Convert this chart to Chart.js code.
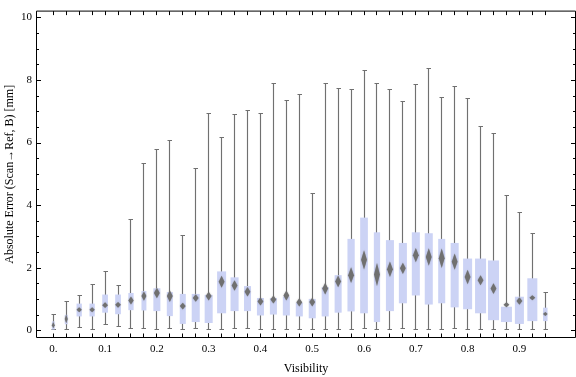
<!DOCTYPE html>
<html><head><meta charset="utf-8">
<script src="https://cdn.jsdelivr.net/npm/chart.js@4"></script>
<style>html,body{margin:0;padding:0;background:#fff}#wrap{width:576px;height:377px}</style>
</head><body><div id="wrap"><canvas id="c" width="576" height="377"></canvas></div>
<script>
// ---- data ----
const visibility = [0,0.025,0.05,0.075,0.1,0.125,0.15,0.175,0.2,0.225,0.25,0.275,0.3,0.325,0.35,0.375,0.4,0.425,0.45,0.475,0.5,0.525,0.55,0.575,0.6,0.625,0.65,0.675,0.7,0.725,0.75,0.775,0.8,0.825,0.85,0.875,0.9,0.925,0.95];
const whiskerLow = [0,0,0.08,0.02,0.18,0.10,0.04,0.04,0,0.03,0,0.03,0,0,0.05,0.03,0,0.02,0,0.02,0,0,0,0,0.03,0,0,0.03,0,0,0,0.03,0,0,0,0,0,0,0];
const quartile1 = [0.02,0.19,0.44,0.44,0.56,0.51,0.64,0.63,0.61,0.45,0.20,0.26,0.23,0.54,0.61,0.61,0.47,0.50,0.47,0.44,0.38,0.44,0.56,0.60,0.54,0.26,0.61,0.86,1.11,0.82,0.86,0.73,0.67,0.54,0.32,0.26,0.20,0.29,0.29];
const centre = [0.16,0.36,0.65,0.65,0.80,0.81,0.95,1.09,1.19,1.09,0.77,1.03,1.09,1.55,1.43,1.23,0.92,0.98,1.11,0.89,0.90,1.33,1.56,1.76,2.25,1.78,1.95,1.98,2.40,2.34,2.30,2.19,1.70,1.60,1.33,0.81,0.93,1.04,0.52];
const quartile3 = [0.28,0.49,0.85,0.85,1.14,1.14,1.19,1.25,1.34,1.22,1.16,1.16,1.13,1.88,1.69,1.41,1.03,1.03,1.08,0.88,1.00,1.38,1.76,2.92,3.60,3.13,2.88,2.79,3.13,3.10,2.92,2.79,2.29,2.29,2.23,0.75,1.07,1.66,0.72];
const whiskerHigh = [0.52,0.93,1.12,1.47,1.90,1.43,3.54,5.35,5.79,6.07,3.03,5.19,6.95,6.17,6.92,7.04,6.95,7.89,7.36,7.55,4.38,7.89,7.76,7.70,8.33,7.92,7.70,7.33,7.86,8.39,7.45,7.80,7.42,6.54,6.32,4.32,3.78,3.12,1.22];
const centreSpread = [0.10,0.14,0.08,0.08,0.09,0.09,0.13,0.15,0.17,0.19,0.11,0.12,0.14,0.19,0.17,0.15,0.13,0.13,0.16,0.13,0.14,0.19,0.19,0.25,0.31,0.37,0.25,0.18,0.23,0.28,0.31,0.26,0.23,0.16,0.17,0.08,0.12,0.08,0.06];
const binWeight = [0.25,0.27,0.48,0.48,0.52,0.52,0.48,0.45,0.64,0.55,0.55,0.73,0.73,0.82,0.73,0.64,0.64,0.64,0.64,0.64,0.64,0.64,0.64,0.66,0.70,0.57,0.73,0.73,0.73,0.73,0.64,0.73,0.82,1.0,1.0,1.0,0.82,0.91,0.41];
const xTickValues = [0,0.1,0.2,0.3,0.4,0.5,0.6,0.7,0.8,0.9];
const xTickLabels = ["0.","0.1","0.2","0.3","0.4","0.5","0.6","0.7","0.8","0.9"];
const yTickValues = [0,2,4,6,8,10];
const yTickLabels = ["0","2","4","6","8","10"];
const yMinorTicks = [0.5,1,1.5,2.5,3,3.5,4.5,5,5.5,6.5,7,7.5,8.5,9,9.5];
const xTitle = "Visibility";
const yTitle = "Absolute Error (Scan\u2192Ref, B) [mm]";

const SERIF = "'Liberation Serif','DejaVu Serif',serif";

const boxPlugin = {
  id: 'boxwhisker',
  beforeDatasetsDraw(chart) {
    const ctx = chart.ctx, xs = chart.scales.x, ys = chart.scales.y;
    const ca = chart.chartArea;
    ctx.save();
    ctx.beginPath(); ctx.rect(ca.left, ca.top, ca.right - ca.left, ca.bottom - ca.top); ctx.clip();
    for (let i = 0; i < visibility.length; i++) {
      const xc = xs.getPixelForValue(visibility[i]);
      const xl = Math.floor(xc) + 0.5;
      const yLo = Math.round(ys.getPixelForValue(whiskerLow[i])) - 0.5;
      const yHi = Math.round(ys.getPixelForValue(whiskerHigh[i])) + 0.5;
      // whisker
      ctx.strokeStyle = 'rgb(112,112,112)';
      ctx.lineWidth = 1.15;
      ctx.beginPath();
      ctx.moveTo(xl, yLo); ctx.lineTo(xl, yHi);
      ctx.moveTo(xl - 2, yLo); ctx.lineTo(xl + 2.5, yLo);
      ctx.moveTo(xl - 2, yHi); ctx.lineTo(xl + 2.5, yHi);
      ctx.stroke();
      // box
      const w = 11 * binWeight[i];
      const y1 = ys.getPixelForValue(quartile1[i]);
      const y3 = ys.getPixelForValue(quartile3[i]);
      ctx.fillStyle = 'rgb(204,211,245)';
      ctx.fillRect(xc - w / 2, y3, w, y1 - y3);
      // diamond
      const hw = Math.min(2.9, w / 2);
      const yc = ys.getPixelForValue(centre[i]);
      const yt = Math.min(ys.getPixelForValue(centre[i] + centreSpread[i]), yc - 2);
      const yb = Math.max(ys.getPixelForValue(centre[i] - centreSpread[i]), yc + 2);
      ctx.fillStyle = 'rgb(112,112,112)';
      ctx.shadowColor = 'rgba(112,112,112,0.55)';
      ctx.shadowBlur = 1.5;
      ctx.beginPath();
      ctx.moveTo(xc, yt); ctx.lineTo(xc + hw, yc); ctx.lineTo(xc, yb); ctx.lineTo(xc - hw, yc);
      ctx.closePath(); ctx.fill();
      ctx.shadowBlur = 0; ctx.shadowColor = 'transparent';
    }
    ctx.restore();
  },
  afterDraw(chart) {
    const ctx = chart.ctx, xs = chart.scales.x, ys = chart.scales.y;
    const ca = chart.chartArea;
    const L = ca.left + 0.5, R = ca.right - 0.5, T = ca.top + 0.5, B = ca.bottom - 0.5;
    ctx.save();
    ctx.strokeStyle = '#000';
    ctx.lineWidth = 1;
    ctx.beginPath();
    ctx.rect(L, T, R - L, B - T);
    yTickValues.forEach(v => {
      const y = Math.round(ys.getPixelForValue(v)) + 0.5;
      ctx.moveTo(L, y); ctx.lineTo(L + 4.5, y);
      ctx.moveTo(R, y); ctx.lineTo(R - 4.5, y);
    });
    yMinorTicks.forEach(v => {
      const y = Math.round(ys.getPixelForValue(v)) + 0.5;
      ctx.moveTo(L, y); ctx.lineTo(L + 2.5, y);
      ctx.moveTo(R, y); ctx.lineTo(R - 2.5, y);
    });
    visibility.forEach(v => {
      const x = Math.floor(xs.getPixelForValue(v)) + 0.5;
      ctx.moveTo(x, B); ctx.lineTo(x, B - 4);
      ctx.moveTo(x, T); ctx.lineTo(x, T + 4);
    });
    ctx.stroke();
    ctx.restore();
  }
};

new Chart(document.getElementById('c'), {
  type: 'scatter',
  data: { datasets: [{ label: 'centre', data: visibility.map((v, i) => ({ x: v, y: centre[i] })), pointRadius: 0, pointHoverRadius: 0 }] },
  options: {
    responsive: false,
    animation: false,
    events: [],
    layout: { padding: { top: 4, left: 0, right: 0, bottom: 0 } },
    plugins: { legend: { display: false }, tooltip: { enabled: false } },
    scales: {
      x: {
        type: 'linear', min: -0.0334, max: 1.0093,
        grid: { display: false, drawTicks: false },
        border: { display: false },
        afterBuildTicks: s => { s.ticks = xTickValues.map(v => ({ value: v })); },
        ticks: { callback: (v, i) => xTickLabels[i], font: { family: SERIF, size: 11 }, color: '#000', padding: 5, maxRotation: 0, autoSkip: false },
        title: { display: true, text: xTitle, font: { family: SERIF, size: 12 }, color: '#000', padding: { top: 0, bottom: 1 } },
        afterFit: s => { s.height = 39; }
      },
      y: {
        type: 'linear', min: -0.25, max: 10.22,
        grid: { display: false, drawTicks: false },
        border: { display: false },
        afterBuildTicks: s => { s.ticks = yTickValues.map(v => ({ value: v })); },
        ticks: { callback: (v, i) => yTickLabels[i], font: { family: SERIF, size: 11 }, color: '#000', padding: 4, autoSkip: false },
        title: { display: true, text: yTitle, font: { family: SERIF, size: 12 }, color: '#000', padding: { top: 3, bottom: 0 } },
        afterFit: s => { s.width = 36; }
      }
    }
  },
  plugins: [boxPlugin]
});
</script>
</body></html>
